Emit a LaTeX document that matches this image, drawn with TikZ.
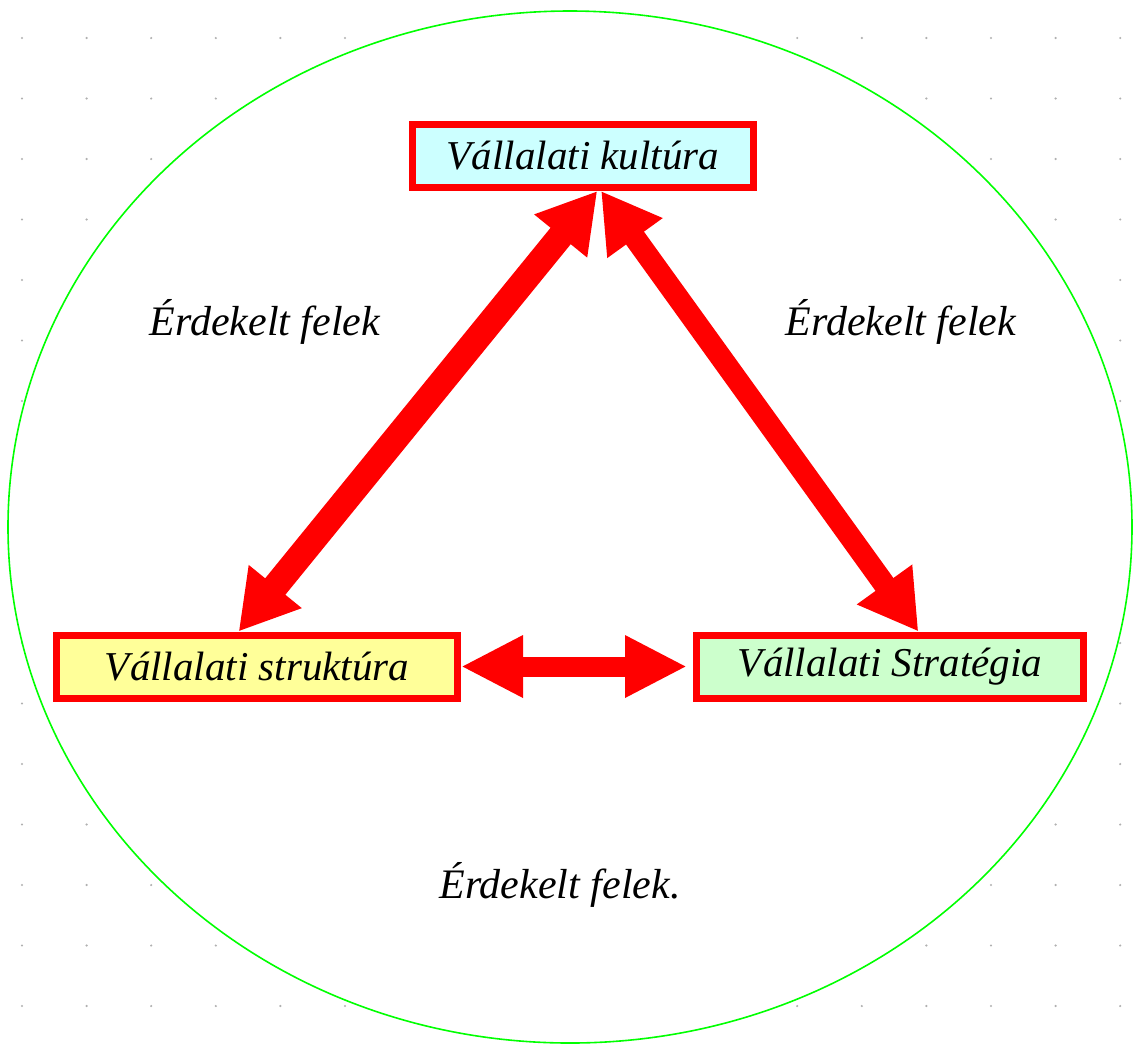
\documentclass[tikz,border=0pt]{standalone}
\usepackage{fontspec}
\setmainfont{Liberation Serif}
\usetikzlibrary{arrows.meta,calc}
\definecolor{kulfill}{HTML}{CCFFFF}
\definecolor{strfill}{HTML}{FFFF99}
\definecolor{stratfill}{HTML}{CCFFCC}
\definecolor{ovalgreen}{HTML}{00FF00}
\definecolor{dotgray}{HTML}{B0B0B0}
\begin{document}
\begin{tikzpicture}[x=0.5pt,y=-0.5pt,
  box/.style={draw=red,line width=3.5pt,rectangle,inner sep=0pt,
    minimum height=31.5pt,font=\fontsize{20.5}{24}\selectfont\itshape},
  lbl/.style={font=\fontsize{21}{25}\selectfont\itshape,inner sep=0pt},
  bigarrow/.style={draw=red,line width=#1,
    {Triangle[length=29pt,width=32pt]}-{Triangle[length=29pt,width=32pt]}},
]
\useasboundingbox (0,0) rectangle (1134,1046);
\fill[white] (0,0) rectangle (1134,1046);
% background dot grid
\foreach \i in {0,...,17}{
  \foreach \j in {0,...,16}{
    \fill[dotgray] (22+64.6*\i,38+60.5*\j) circle (0.6pt);
  }
}
% oval
\filldraw[fill=white,draw=ovalgreen,line width=0.8pt] (570,527) ellipse [x radius=562,y radius=516];
% boxes
\node[box,fill=kulfill,minimum width=170.5pt] (kul) at (583,156) {Vállalati kultúra};
\node[box,fill=strfill,minimum width=200.5pt] (str) at (257,666.5) {Vállalati struktúra};
\node[box,fill=stratfill,minimum width=193.5pt] (strat) at (890,666.5) {Vállalati Stratégia};
% anchor points for the connectors
\coordinate (kulL) at ($(kul.south west)!0.541!(kul.south east)$);
\coordinate (kulR) at ($(kul.south west)!0.552!(kul.south east)$);
\coordinate (strT) at ($(str.north west)!0.455!(str.north east)$);
\coordinate (stratT) at ($(strat.north west)!0.572!(strat.north east)$);
% arrows
\draw[bigarrow=13pt] (kulL) -- (strT);
\draw[bigarrow=11pt] (kulR) -- (stratT);
\draw[draw=red,line width=10pt,
  {Triangle[length=31pt,width=29pt]}-{Triangle[length=31pt,width=29pt]},
  shorten >=3pt] (str.east) -- (strat.west);
% labels
\node[lbl] (l1) at (265,322) {Érdekelt felek};
\node[lbl] (l2) at (901,322) {Érdekelt felek};
\node[lbl] (l3) at (560,885) {Érdekelt felek.};
\end{tikzpicture}
\end{document}
